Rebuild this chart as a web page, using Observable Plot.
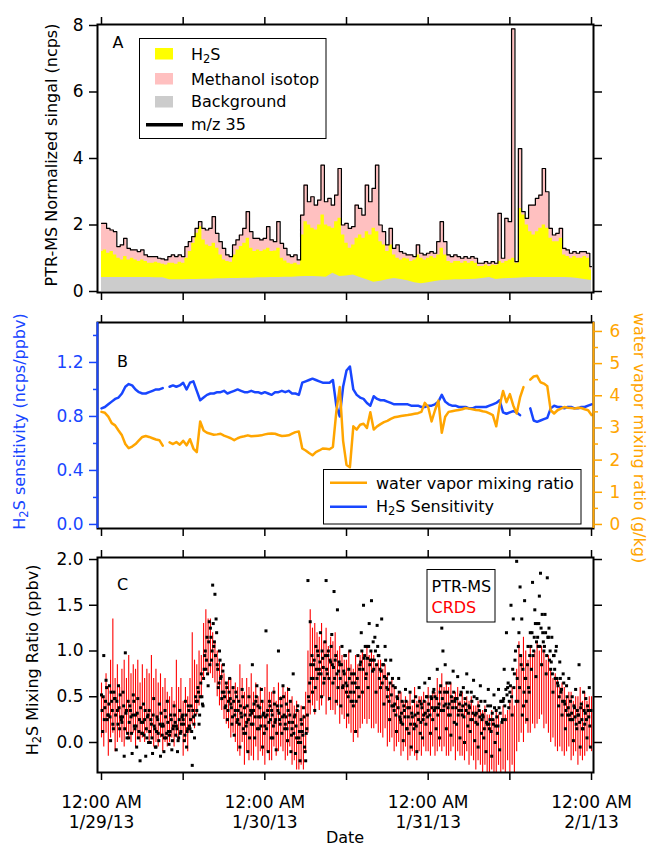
<!DOCTYPE html>
<html><head><meta charset="utf-8">
<script src="https://cdn.jsdelivr.net/npm/d3@7"></script>
<script src="https://cdn.jsdelivr.net/npm/@observablehq/plot@0.6"></script>
<style>
body{margin:0;background:#fff;}
#wrap{position:relative;width:650px;height:847px;overflow:hidden;font-family:"DejaVu Sans",sans-serif;}
</style></head><body><div id="wrap"></div>
<script>
// ---- time base: hours from 12:00 AM 1/29/13 ----
const t0 = Date.UTC(2013, 0, 29);
const H = 3600e3;

// Panel A (30-min steps, ncps)
const mz35 = [
2.05,2.05,1.90,1.85,1.80,1.35,1.40,1.60,1.30,1.25,
1.25,1.20,1.25,1.10,1.05,1.05,1.05,1.00,0.98,0.95,
1.05,1.10,1.05,1.10,1.05,1.35,1.50,1.65,1.90,2.10,
1.90,1.85,1.90,2.25,1.75,1.50,1.30,1.10,1.05,1.40,
1.55,1.70,1.90,2.40,1.80,1.60,1.60,1.55,1.60,1.95,
1.55,1.50,2.10,1.45,1.30,1.10,1.05,1.10,0.95,2.30,
3.20,2.70,2.85,2.60,2.75,3.80,2.70,2.80,2.60,2.90,
3.70,2.00,2.05,1.90,1.95,2.60,2.50,2.30,3.20,2.70,
3.10,3.80,2.00,1.80,1.40,1.90,1.30,1.40,1.20,1.15,
1.10,1.10,1.05,1.40,1.15,1.10,1.15,1.20,1.15,1.50,
2.10,1.50,1.10,1.05,1.10,1.05,1.00,1.05,1.00,1.05,
1.00,0.85,0.85,0.90,0.85,0.90,0.85,2.35,1.00,2.20,
2.10,7.90,0.90,4.30,2.40,2.20,2.60,2.60,2.80,2.90,
3.70,3.00,1.90,1.70,1.75,1.90,1.30,1.25,1.15,1.20,
1.15,1.20,1.20,1.15,0.75];
const h2sTop = [
1.20,1.25,1.15,1.20,1.10,1.00,0.95,1.05,0.95,1.00,
0.95,0.90,0.95,0.90,0.85,0.85,0.88,0.85,0.82,0.80,
0.85,0.85,0.82,0.88,0.85,1.00,1.20,1.45,1.75,1.95,
1.55,1.40,1.35,1.45,1.30,1.10,0.95,0.90,0.88,1.10,
1.25,1.35,1.45,1.60,1.30,1.20,1.25,1.20,1.25,1.30,
1.20,1.22,1.30,1.00,0.92,0.85,0.82,0.85,0.80,1.70,
2.10,2.00,1.90,1.85,2.00,2.30,2.00,1.95,1.90,2.10,
2.20,1.70,1.45,1.30,1.40,1.60,1.70,1.60,1.80,1.70,
1.90,1.80,1.50,1.40,1.20,1.40,1.10,1.00,0.95,1.00,
0.98,0.90,0.95,1.10,1.00,0.95,1.00,1.05,1.00,1.10,
1.30,1.10,0.90,0.85,0.90,0.90,0.85,0.90,0.85,0.90,
0.85,0.75,0.75,0.80,0.75,0.80,0.78,0.90,0.85,0.90,
0.95,1.00,0.85,2.50,2.30,2.00,1.80,1.70,1.80,1.90,
2.00,1.90,1.60,1.50,1.50,1.60,1.10,1.05,1.00,1.05,
1.00,1.00,1.05,1.00,0.65];
// hourly background
const background = [
0.42,0.42,0.42,0.42,0.42,0.42,0.42,0.42,0.41,0.41,
0.35,0.35,0.35,0.36,0.36,0.37,0.37,0.38,0.38,0.39,
0.39,0.40,0.40,0.41,0.41,0.42,0.42,0.43,0.43,0.44,
0.45,0.45,0.44,0.43,0.55,0.45,0.47,0.50,0.42,0.35,
0.28,0.31,0.35,0.39,0.36,0.32,0.26,0.23,0.26,0.30,
0.33,0.34,0.35,0.35,0.36,0.37,0.39,0.42,0.36,0.38,
0.39,0.40,0.41,0.42,0.42,0.42,0.42,0.42,0.42,0.41,
0.39,0.36,0.33];

// Panel B (30-min steps)
const sensitivity = [
0.86,0.87,0.89,0.91,0.93,0.94,0.97,1.02,1.04,1.03,1.00,0.98,0.97,0.97,0.98,0.99,1.00,1.00,1.01,null,
1.02,1.03,1.02,1.03,1.05,1.00,1.05,1.06,0.99,0.92,
0.94,0.96,0.97,0.97,0.98,0.98,0.99,0.97,0.98,0.99,
1.00,0.99,0.98,0.98,0.99,0.98,0.98,0.97,0.98,0.97,
0.96,0.98,0.98,0.99,0.98,0.99,0.97,0.97,0.96,1.05,
1.06,1.07,1.08,1.07,1.06,1.05,1.05,1.05,1.07,0.88,
0.80,1.02,1.14,1.17,1.00,0.96,0.94,0.93,0.90,0.88,
0.95,0.93,0.92,0.92,0.91,0.90,0.89,0.89,0.89,0.89,
0.89,0.88,0.88,0.88,0.87,0.87,0.88,0.88,0.89,0.91,
0.96,0.91,0.89,0.88,0.88,0.87,0.87,0.87,0.86,0.86,
0.87,0.87,0.87,0.87,0.88,0.89,0.90,0.92,0.83,0.82,
0.83,0.84,0.83,0.81,null,null,0.86,0.77,0.76,0.77,
0.78,0.79,0.86,0.88,0.87,0.87,0.86,0.87,0.87,0.86,
0.86,0.87,0.87,0.88,0.89];
const waterVapor = [
3.50,3.47,3.35,3.15,3.08,2.92,2.77,2.50,2.37,2.42,2.50,2.61,2.72,2.75,2.72,2.68,2.64,2.62,2.45,null,
2.55,2.50,2.56,2.48,2.60,2.46,2.65,2.36,2.25,3.20,
2.92,2.85,2.82,2.79,2.80,2.82,2.76,2.72,2.68,2.62,
2.68,2.72,2.74,2.77,2.74,2.75,2.76,2.77,2.80,2.82,
2.83,2.82,2.78,2.75,2.76,2.77,2.82,2.87,2.89,2.36,
2.30,2.22,2.15,2.25,2.30,2.36,2.35,2.34,2.41,3.50,
4.27,2.60,1.85,1.78,3.05,2.95,3.10,3.13,3.00,3.49,
2.95,3.05,3.12,3.18,3.22,3.28,3.33,3.35,3.37,3.39,
3.40,3.42,3.44,3.46,3.50,3.78,3.65,3.20,3.55,3.85,
2.85,3.35,3.50,3.52,3.54,3.56,3.58,3.62,3.60,3.58,
3.56,3.55,3.52,3.50,3.45,3.40,3.05,3.70,4.15,3.80,
4.05,3.70,3.45,3.95,4.27,null,4.50,4.60,4.62,4.42,
4.38,4.30,3.55,3.45,3.55,3.60,3.65,3.63,3.62,3.60,
3.63,3.62,3.58,3.55,3.40];

// Panel C: PTR-MS, two interleaved sets of 6 samples / hour (ppbv)
const ptrms = [
0.52,0.12,0.95,0.38,0.68,0.25, 0.30,0.62,0.02,0.45,0.20,0.55,
0.48,-0.08,0.35,0.62,0.15,0.28, 0.22,0.55,-0.15,0.98,0.35,0.10,
0.05,0.40,0.28,-0.12,0.52,0.18, 0.30,-0.05,0.48,0.12,-0.20,0.22,
0.10,0.42,0.25,-0.15,0.05,0.30, 0.35,0.00,0.20,-0.12,0.48,0.15,
-0.05,0.28,0.10,0.42,-0.15,0.18, 0.20,-0.10,0.35,0.05,0.45,0.12,
0.08,0.30,-0.08,0.15,0.40,0.22, 0.18,-0.10,0.05,0.35,0.12,0.28,
0.25,0.02,0.45,-0.05,0.15,0.35, 0.15,0.40,-0.25,0.28,0.05,0.50,
0.35,0.60,0.20,0.50,0.75,0.42, 0.70,0.95,0.80,1.15,0.62,1.32,
1.25,0.90,1.72,1.05,1.62,1.35, 0.85,0.60,1.00,0.70,0.48,0.78,
0.55,0.38,0.65,0.25,0.45,0.70, 0.42,0.20,0.60,0.08,0.35,0.50,
0.25,0.45,-0.05,0.32,0.58,0.15, 0.38,0.10,0.22,-0.10,0.50,0.30,
0.20,0.85,0.35,0.05,0.45,0.62, 0.40,0.15,0.28,0.58,-0.05,0.32,
0.18,1.22,0.30,-0.10,0.45,0.25, 0.35,0.05,0.55,0.22,-0.08,0.40,
1.00,0.25,0.48,0.10,0.62,0.30, 0.20,0.42,0.02,0.58,0.30,-0.10,
0.15,0.75,0.28,-0.12,0.05,0.40, 0.05,-0.20,0.25,0.12,0.38,-0.05,
-0.20,0.15,1.77,0.45,1.32,0.70, 0.55,0.85,0.35,1.05,0.70,0.95,
0.80,1.20,0.50,0.92,0.65,1.10, 1.77,0.75,1.00,0.48,0.88,1.18,
0.65,1.65,0.90,0.45,1.45,0.78, 0.85,0.40,1.05,0.62,0.75,0.95,
0.55,0.30,0.80,1.00,0.45,0.65, 0.40,0.75,0.12,0.60,0.95,0.50,
0.85,1.20,0.55,1.50,0.95,0.70, 1.05,0.60,1.30,0.90,1.55,0.78,
0.80,1.15,0.55,1.28,0.95,0.70, 0.60,1.35,0.85,0.42,1.05,0.70,
0.50,0.75,0.25,0.90,0.40,0.62, 0.35,0.60,0.12,0.48,0.70,0.28,
0.22,0.45,0.02,0.35,0.58,0.15, 0.38,0.10,0.55,-0.05,0.28,0.45,
0.20,0.50,-0.10,0.32,0.60,0.10, 0.42,0.05,0.30,0.65,0.20,0.50,
0.35,0.70,0.10,0.48,0.25,0.58, 0.50,0.15,0.80,0.38,0.05,0.62,
1.25,1.00,0.40,0.85,0.15,0.55, 0.30,0.65,0.08,0.45,0.78,0.22,
0.48,0.20,0.72,0.35,0.05,0.55, 0.30,0.60,0.00,0.42,0.75,0.18,
0.40,0.12,0.55,0.25,0.68,0.02, 0.22,0.48,-0.05,0.35,0.62,0.10,
0.30,0.05,0.45,-0.10,0.20,0.58, 0.15,0.40,-0.15,0.25,0.52,0.00,
0.35,0.10,0.58,-0.08,0.45,0.22, 0.45,0.80,0.25,1.20,0.60,0.38,
0.55,1.50,0.30,1.35,0.75,1.00, 1.98,0.45,1.20,1.70,0.85,0.30,
0.40,1.55,0.70,0.25,1.05,0.55, 1.20,0.80,1.75,1.00,1.45,0.72,
1.30,1.05,1.60,1.85,0.85,1.20, 1.00,1.40,0.75,1.80,1.15,0.90,
0.80,1.15,0.55,0.95,0.70,1.05, 0.65,0.40,0.88,0.55,0.30,0.75,
0.45,0.15,0.62,0.30,0.70,0.25, 0.25,0.50,0.02,0.38,0.58,0.15,
0.30,0.85,-0.05,0.42,0.15,0.55, 0.20,0.48,0.05,0.35,0.60,-0.05];
const ptrms2 = [
0.35,0.50,0.25,0.45,0.60,0.30, 0.42,0.28,0.55,0.35,0.15,0.48,
0.30,0.45,0.20,0.38,0.52,0.25, 0.28,0.40,0.15,0.32,0.05,0.45,
0.22,0.35,0.10,0.30,0.45,0.15, 0.18,0.32,0.05,0.25,0.38,0.10,
0.22,0.08,0.35,0.15,0.28,0.00, 0.12,0.25,0.05,0.30,0.18,-0.05,
0.12,0.25,0.02,0.20,0.32,0.08, 0.18,0.05,0.28,0.10,0.22,-0.02,
0.12,0.25,0.02,0.18,0.30,0.08, 0.15,0.02,0.25,0.10,0.20,0.30,
0.20,0.08,0.30,0.12,0.40,0.18, 0.25,0.12,0.35,0.20,0.30,0.45,
0.45,0.55,0.30,0.65,0.50,0.40, 0.80,1.00,0.90,0.75,1.10,0.85,
1.15,1.00,1.30,1.10,0.95,1.20, 0.80,0.65,0.90,0.72,0.55,0.85,
0.50,0.40,0.60,0.35,0.55,0.48, 0.38,0.28,0.45,0.30,0.55,0.22,
0.35,0.20,0.40,0.28,0.50,0.10, 0.30,0.18,0.40,0.25,0.05,0.35,
0.32,0.20,0.42,0.28,0.50,0.15, 0.28,0.38,0.18,0.45,0.30,0.10,
0.28,0.15,0.35,0.22,0.40,0.05, 0.30,0.18,0.42,0.25,0.10,0.35,
0.32,0.20,0.40,0.28,0.50,0.15, 0.28,0.15,0.35,0.22,0.45,0.08,
0.22,0.10,0.30,0.18,0.35,0.00, 0.12,0.00,0.20,0.08,0.28,-0.10,
0.10,0.30,0.50,0.65,0.85,0.95, 0.70,0.90,0.60,0.80,1.00,0.75,
0.88,0.75,1.00,0.82,0.70,0.95, 0.80,0.95,0.70,0.90,1.05,0.85,
0.82,0.70,0.95,0.75,0.60,0.88, 0.70,0.85,0.60,0.78,0.95,0.65,
0.62,0.50,0.70,0.55,0.75,0.45, 0.55,0.65,0.45,0.70,0.60,0.80,
0.88,1.00,0.80,0.92,1.05,0.75, 0.92,1.05,0.85,1.00,0.90,1.10,
0.90,1.00,0.85,1.05,0.95,0.80, 0.78,0.65,0.85,0.72,0.90,0.60,
0.58,0.45,0.65,0.52,0.70,0.40, 0.42,0.30,0.50,0.38,0.55,0.25,
0.32,0.20,0.40,0.28,0.45,0.15, 0.28,0.38,0.20,0.32,0.45,0.15,
0.30,0.18,0.40,0.25,0.45,0.22, 0.38,0.25,0.45,0.32,0.50,0.28,
0.42,0.30,0.50,0.38,0.55,0.35, 0.38,0.48,0.30,0.42,0.55,0.35,
0.48,0.35,0.55,0.42,0.65,0.38, 0.42,0.30,0.50,0.38,0.55,0.45,
0.38,0.48,0.30,0.42,0.52,0.35, 0.40,0.28,0.48,0.35,0.55,0.32,
0.38,0.25,0.45,0.32,0.50,0.30, 0.32,0.20,0.40,0.28,0.45,0.25,
0.28,0.15,0.35,0.22,0.40,0.20, 0.25,0.12,0.32,0.20,0.38,0.18,
0.28,0.18,0.38,0.32,0.45,0.25, 0.48,0.40,0.58,0.52,0.65,0.45,
0.62,0.50,0.80,0.60,0.90,0.45, 0.70,1.05,0.60,0.95,1.35,0.80,
0.55,0.70,0.45,0.85,0.60,0.95, 1.05,1.20,0.95,1.15,1.30,1.10,
1.15,1.30,1.05,1.25,1.40,1.10, 1.05,1.20,0.95,1.15,1.25,1.00,
0.88,0.75,0.95,0.80,1.00,0.70, 0.62,0.50,0.70,0.58,0.45,0.65,
0.42,0.35,0.50,0.38,0.30,0.45, 0.32,0.25,0.40,0.28,0.20,0.35,
0.30,0.22,0.38,0.25,0.15,0.35, 0.32,0.25,0.40,0.28,0.18,0.35];
// Panel C: CRDS streak extents (3 per hour)
const crdsLow = [
0.05,-0.05,0.10, -0.15,0.05,0.10, -0.10,0.00,0.05, 0.00,-0.05,0.10, 0.05,0.00,0.10, -0.05,0.05,0.00,
0.05,0.00,0.10, 0.00,0.05,-0.05, 0.00,-0.05,0.05, -0.10,0.00,-0.05, 0.00,0.05,-0.05, 0.05,0.00,0.10,
-0.15,0.00,-0.10, 0.10,0.20,0.15, 0.30,0.40,0.50, 0.70,0.80,0.75, 0.75,0.70,0.65, 0.50,0.40,0.35,
0.25,0.20,0.15, 0.05,0.10,0.00, -0.10,-0.15,0.00, -0.25,-0.10,-0.20, -0.15,-0.20,-0.05, -0.20,-0.10,-0.15,
-0.25,-0.10,-0.20, -0.20,-0.05,-0.15, -0.10,-0.05,-0.10, -0.20,-0.15,-0.05, -0.25,-0.20,-0.30, -0.30,-0.25,-0.30,
-0.10,0.10,0.30, 0.40,0.30,0.45, 0.35,0.40,0.50, 0.30,0.45,0.35, 0.35,0.30,0.40, 0.20,0.30,0.25,
0.15,0.20,0.10, 0.00,0.10,0.05, 0.15,0.20,0.25, 0.20,0.25,0.15, 0.15,0.20,0.10, 0.10,0.05,0.15,
-0.05,0.00,0.05, -0.10,-0.05,0.00, -0.15,-0.10,-0.05, -0.20,-0.15,-0.10, -0.15,-0.20,-0.10, -0.15,-0.05,-0.10,
-0.10,-0.15,-0.05, -0.15,-0.10,-0.05, -0.10,-0.05,-0.15, -0.15,-0.10,-0.05, -0.20,-0.10,-0.15, -0.15,-0.20,-0.10,
-0.25,-0.15,-0.20, -0.30,-0.20,-0.25, -0.33,-0.25,-0.33, -0.33,-0.30,-0.33, -0.33,-0.25,-0.33, -0.30,-0.33,-0.20,
-0.33,-0.25,-0.33, -0.10,0.00,0.10, 0.00,0.20,0.10, 0.10,0.20,0.15, 0.20,0.25,0.30, 0.15,0.20,0.10,
0.00,0.05,-0.05, -0.10,-0.05,-0.10, -0.15,-0.10,-0.05, -0.20,-0.15,-0.10, -0.25,-0.15,-0.20, -0.15,-0.10,-0.05,
-0.10];
const crdsHigh = [
0.65,0.50,0.75, 0.60,0.90,1.35, 0.70,0.85,0.60, 0.80,0.90,0.70, 0.95,0.75,0.85, 0.80,0.90,0.65,
0.85,0.70,0.80, 0.75,0.95,0.70, 0.80,0.65,0.75, 0.60,0.70,0.55, 0.50,0.60,0.45, 0.90,0.60,0.70,
0.45,0.60,0.50, 0.70,1.20,0.90, 0.85,1.00,0.95, 1.30,1.45,1.35, 1.35,1.20,1.10, 1.00,0.90,0.85,
0.75,0.65,0.70, 0.70,0.60,0.65, 0.60,0.85,0.70, 0.55,0.70,0.60, 0.75,0.55,0.65, 0.50,0.60,0.45,
0.60,0.85,0.55, 0.55,0.60,0.45, 0.65,0.50,0.60, 0.55,0.60,0.45, 0.50,0.40,0.45, 0.35,0.40,0.30,
0.55,1.00,1.45, 1.25,1.30,1.20, 1.15,1.30,1.10, 1.25,1.05,1.15, 1.10,1.20,1.00, 1.05,0.95,0.90,
0.90,1.00,0.85, 0.80,0.95,0.85, 0.95,1.00,0.90, 1.05,0.95,1.00, 0.95,0.85,0.90, 0.90,0.80,0.85,
0.75,0.65,0.70, 0.60,0.50,0.55, 0.55,0.45,0.50, 0.45,0.55,0.40, 0.60,0.45,0.50, 0.50,0.55,0.45,
0.60,0.50,0.55, 0.55,0.70,0.60, 0.75,0.60,0.65, 0.60,0.65,0.50, 0.55,0.60,0.45, 0.55,0.45,0.50,
0.45,0.50,0.40, 0.40,0.45,0.35, 0.35,0.40,0.30, 0.30,0.35,0.25, 0.35,0.30,0.20, 0.40,0.30,0.35,
0.45,0.60,0.40, 0.80,1.10,0.95, 1.15,1.00,0.90, 1.05,0.95,1.00, 1.10,1.00,1.05, 1.00,0.90,0.95,
0.80,0.70,0.75, 0.70,0.60,0.65, 0.60,0.50,0.55, 0.55,0.45,0.50, 0.50,0.60,0.45, 0.55,0.45,0.50,
0.50];

// tick values
const xTickHours = [0, 12, 24, 36, 48, 60, 72];
const xLabelHours = [0, 24, 48, 72];
const yTicksA = [0, 2, 4, 6, 8];
const yTicksB = [0, 0.4, 0.8, 1.2];
const yMinorB = [0.2, 0.6, 1.0, 1.4];
const wTicks = [0, 1, 2, 3, 4, 5, 6];
const wMinor = [0.5, 1.5, 2.5, 3.5, 4.5, 5.5];
const yTicksC = [0, 0.5, 1.0, 1.5, 2.0];

// ---- derived tables ----
const T = h => new Date(t0 + h * H);
const tabA = mz35.map((v, i) => ({t: T(i / 2), total: v, h2s: h2sTop[i]}));
const tabBg = background.map((v, i) => ({t: T(i), v}));
const tabB = sensitivity.map((s, i) => ({t: T(i / 2), s, w: waterVapor[i]}));
const tabP = ptrms.map((v, i) => ({t: T(i / 6), v}))
  .concat(ptrms2.map((v, i) => ({t: T(i / 6 + 1 / 12), v})));
const tabR = crdsLow.map((lo, i) => ({t: T(i / 3), lo, hi: crdsHigh[i]}));

const BLUE = "#1846ff", ORANGE = "#ffa500";
const xDomain = [T(-0.588), T(72.29)];
const kW = 32.17 / 135; // water g/kg -> sensitivity axis units
const FONT = "DejaVu Sans, sans-serif";
const wrap = document.getElementById("wrap");
function place(svg, top) {
  svg.style.position = "absolute"; svg.style.left = "0px"; svg.style.top = top + "px";
  wrap.appendChild(svg);
}
const fmtDate = d => `${d.getUTCMonth() + 1}/${d.getUTCDate()}/${String(d.getUTCFullYear()).slice(2)}`;
function xAxes(labels) {
  const t12 = xTickHours.map(T);
  const m = [
    Plot.axisX(t12, {anchor: "top", tickSize: 8, strokeWidth: 1.5, tickFormat: () => "", label: null}),
    Plot.axisX(t12, {anchor: "bottom", tickSize: 8, strokeWidth: 1.5, tickFormat: () => "", label: null})
  ];
  if (labels) m.push(Plot.axisX(xLabelHours.map(T), {anchor: "bottom", tickSize: 0, tickPadding: 21,
    tickFormat: d => "12:00 AM\n" + fmtDate(d), lineHeight: 1.2, fontSize: 17, label: null}));
  return m;
}
const common = {width: 650, marginLeft: 97, marginRight: 57,
  style: {fontFamily: FONT, fontSize: "17px", background: "transparent", overflow: "visible"}};

// Panel A
place(Plot.plot({...common, height: 305, marginTop: 24, marginBottom: 13,
  x: {type: "utc", domain: xDomain, label: null},
  y: {domain: [-0.03, 8.03], label: null},
  marks: [
    Plot.areaY(tabA, {x: "t", y1: 0, y2: "total", fill: "#ffc0c0", curve: "step"}),
    Plot.areaY(tabA, {x: "t", y1: 0, y2: "h2s", fill: "#ffff00", curve: "step"}),
    Plot.areaY(tabBg, {x: "t", y1: 0, y2: "v", fill: "#cccccc"}),
    Plot.lineY(tabA, {x: "t", y: "total", stroke: "#000", strokeWidth: 1.2, curve: "step"}),
    Plot.frame({stroke: "#000", strokeWidth: 2}),
    ...xAxes(false),
    Plot.axisY(yTicksA, {anchor: "left", tickSize: 8, tickPadding: 6, strokeWidth: 1.5, tickFormat: d3.format("d"), label: null}),
    Plot.axisY(yTicksA, {anchor: "right", tickSize: 8, strokeWidth: 1.5, tickFormat: () => "", label: null})
  ]}), 0);

// Panel B
place(Plot.plot({...common, height: 235, marginTop: 17, marginBottom: 12,
  x: {type: "utc", domain: xDomain, label: null},
  y: {domain: [-0.03, 1.496], label: null},
  marks: [
    Plot.lineY(tabB, {x: "t", y: "s", stroke: BLUE, strokeWidth: 2.5, strokeLinejoin: "round"}),
    Plot.lineY(tabB, {x: "t", y: d => d.w == null ? NaN : d.w * kW, stroke: ORANGE, strokeWidth: 2.5, strokeLinejoin: "round"}),
    Plot.frame({stroke: "#000", strokeWidth: 2}),
    Plot.ruleX([xDomain[0]], {stroke: BLUE, strokeWidth: 2}),
    Plot.ruleX([xDomain[1]], {stroke: ORANGE, strokeWidth: 2}),
    ...xAxes(false),
    Plot.axisY(yTicksB, {anchor: "left", tickSize: 8, tickPadding: 6, strokeWidth: 1.5, color: BLUE, tickFormat: d3.format(".1f"), label: null}),
    Plot.axisY(yMinorB, {anchor: "left", tickSize: 4, strokeWidth: 1.5, color: BLUE, tickFormat: () => "", label: null}),
    Plot.axisY(wTicks.map(w => w * kW), {anchor: "right", tickSize: 8, tickPadding: 8, strokeWidth: 1.5, color: ORANGE, tickFormat: d => String(Math.round(d / kW)), label: null}),
    Plot.axisY(wMinor.map(w => w * kW), {anchor: "right", tickSize: 4, strokeWidth: 1.5, color: ORANGE, tickFormat: () => "", label: null})
  ]}), 305);

// Panel C
place(Plot.plot({...common, height: 307, marginTop: 17, marginBottom: 75,
  x: {type: "utc", domain: xDomain, label: null},
  y: {domain: [-0.328, 2.022], label: null},
  marks: [
    Plot.ruleX(tabR, {x: "t", y1: "lo", y2: "hi", stroke: "#ff0000", strokeWidth: 1.1, clip: true}),
    Plot.dot(tabP, {x: "t", y: "v", symbol: "square", r: 1.7, fill: "#000", stroke: "none", clip: true}),
    Plot.frame({stroke: "#000", strokeWidth: 2}),
    ...xAxes(true),
    Plot.axisY(yTicksC, {anchor: "left", tickSize: 8, tickPadding: 6, strokeWidth: 1.5, tickFormat: d3.format(".1f"), label: null}),
    Plot.axisY(yTicksC, {anchor: "right", tickSize: 8, strokeWidth: 1.5, tickFormat: () => "", label: null})
  ]}), 540);

// ---- overlay: titles, legends, panel letters ----
const ov = d3.select(wrap).append("svg").attr("width", 650).attr("height", 847)
  .style("position", "absolute").style("left", 0).style("top", 0)
  .style("font-family", FONT).style("pointer-events", "none");
// "₂" in a string is drawn as a lowered, smaller "2"
function txt(x, y, s, o = {}) {
  const t = ov.append("text").attr("x", x).attr("y", y)
    .attr("font-size", o.size || 16).attr("fill", o.fill || "#000").attr("text-anchor", o.anchor || "start");
  const parts = s.split("\u2082");
  parts.forEach((p, i) => {
    if (i > 0) {
      t.append("tspan").attr("font-size", "0.72em").attr("dy", "0.3em").text("2");
      t.append("tspan").attr("dy", "-0.216em").text(p);
    } else t.append("tspan").text(p);
  });
  if (o.rot != null) t.attr("transform", `rotate(${o.rot},${x},${y})`);
  return t;
}
txt(57, 155, "PTR-MS Normalized singal (ncps)", {rot: -90, anchor: "middle"});
txt(25, 421.5, "H\u2082S sensitivity (ncps/ppbv)", {rot: -90, anchor: "middle", fill: BLUE});
txt(38, 660, "H\u2082S Mixing Ratio (ppbv)", {rot: -90, anchor: "middle"});
txt(634, 438, "water vapor mixing ratio (g/kg)", {rot: 90, anchor: "middle", fill: ORANGE});
txt(345, 843, "Date", {anchor: "middle"});
txt(112.5, 48, "A", {size: 16});
txt(117, 367, "B", {size: 16});
txt(117, 590, "C", {size: 16});
// legend A
ov.append("rect").attr("x", 139.5).attr("y", 38.5).attr("width", 186.5).attr("height", 100).attr("fill", "#fff").attr("stroke", "#000");
[["#ffff00", 48], ["#ffc0c0", 73], ["#cccccc", 96]].forEach(([c, y]) =>
  ov.append("rect").attr("x", 155).attr("y", y).attr("width", 18).attr("height", 11.5).attr("fill", c));
ov.append("line").attr("x1", 146).attr("x2", 183).attr("y1", 124.7).attr("y2", 124.7).attr("stroke", "#000").attr("stroke-width", 3.5);
txt(191, 59.5, "H\u2082S"); txt(191, 84.5, "Methanol isotop"); txt(191, 106.7, "Background"); txt(191, 130, "m/z 35");
// legend B
ov.append("rect").attr("x", 323.5).attr("y", 469.5).attr("width", 257.5).attr("height", 54.5).attr("fill", "#fff").attr("stroke", "#000");
ov.append("line").attr("x1", 330).attr("x2", 367).attr("y1", 482.7).attr("y2", 482.7).attr("stroke", ORANGE).attr("stroke-width", 2.5);
ov.append("line").attr("x1", 330).attr("x2", 367).attr("y1", 506.7).attr("y2", 506.7).attr("stroke", BLUE).attr("stroke-width", 2.5);
txt(376, 489, "water vapor mixing ratio"); txt(376, 512, "H\u2082S Sensitivity");
// legend C
ov.append("rect").attr("x", 427).attr("y", 569.5).attr("width", 68).attr("height", 52.5).attr("fill", "#fff").attr("stroke", "#000");
txt(431.5, 591.5, "PTR-MS"); txt(431.5, 613, "CRDS", {fill: "#ff0000"});
</script></body></html>
